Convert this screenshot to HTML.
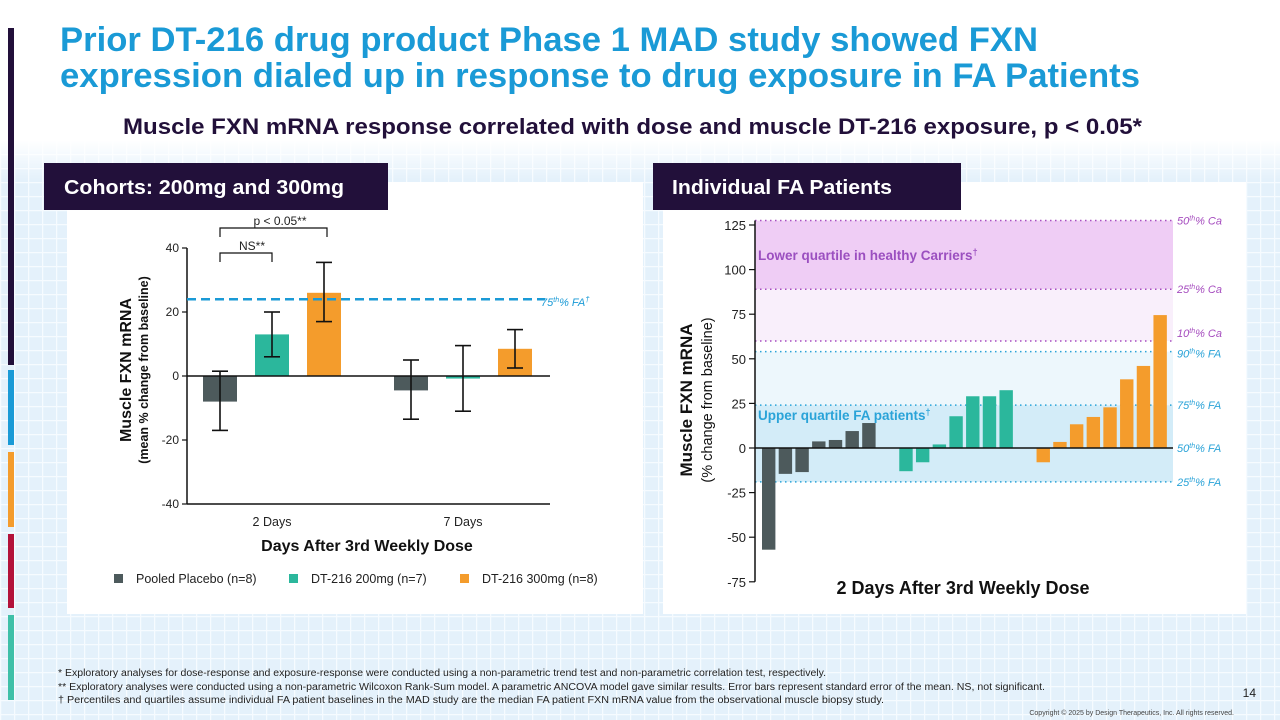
<!DOCTYPE html>
<html><head><meta charset="utf-8"><style>
html,body{margin:0;padding:0;width:1280px;height:720px;overflow:hidden;background:#fff}
svg{display:block;font-family:"Liberation Sans",sans-serif}
</style></head><body>
<svg id="s" width="1280" height="720" viewBox="0 0 1280 720">
<defs>
<pattern id="grid" width="14" height="14" patternUnits="userSpaceOnUse">
<rect width="14" height="14" fill="#e4f1fb"/>
<path d="M0 0.5H14M0.5 0V14" stroke="#f6fbff" stroke-width="1.5"/>
</pattern>
<linearGradient id="fade" x1="0" y1="0" x2="0" y2="1">
<stop offset="0" stop-color="#fff" stop-opacity="1"/><stop offset="1" stop-color="#fff" stop-opacity="0"/>
</linearGradient>
</defs>
<rect x="0" y="140" width="1280" height="580" fill="url(#grid)"/>
<rect x="0" y="140" width="1280" height="40" fill="url(#fade)"/>
<rect x="8" y="28" width="6" height="337" fill="#22103a"/>
<rect x="8" y="370" width="6" height="75" fill="#1a9ad6"/>
<rect x="8" y="452" width="6" height="75" fill="#f49c2c"/>
<rect x="8" y="534" width="6" height="74" fill="#b3123a"/>
<rect x="8" y="615" width="6" height="85" fill="#3fc0a8"/>

<text x="60" y="51" font-size="34" font-weight="bold" fill="#1a9ad6" textLength="978" lengthAdjust="spacingAndGlyphs">Prior DT-216 drug product Phase 1 MAD study showed FXN</text>
<text x="60" y="87" font-size="34" font-weight="bold" fill="#1a9ad6" textLength="1080" lengthAdjust="spacingAndGlyphs">expression dialed up in response to drug exposure in FA Patients</text>
<text x="123" y="134" font-size="22" font-weight="bold" fill="#22103a" textLength="1019" lengthAdjust="spacingAndGlyphs">Muscle FXN mRNA response correlated with dose and muscle DT-216 exposure, p &lt; 0.05*</text>

<rect x="67" y="182" width="576" height="432" fill="#fff"/>
<rect x="663" y="182" width="583" height="432" fill="#fff"/>
<rect x="44" y="163" width="344" height="47" fill="#22103a"/>
<text x="64" y="194" font-size="20" font-weight="bold" fill="#fff" textLength="280" lengthAdjust="spacingAndGlyphs">Cohorts: 200mg and 300mg</text>
<rect x="653" y="163" width="308" height="47" fill="#22103a"/>
<text x="672" y="194" font-size="20" font-weight="bold" fill="#fff" textLength="220" lengthAdjust="spacingAndGlyphs">Individual FA Patients</text>

<g id="left"></g>
<g id="right"></g>

<g font-size="10" fill="#222">
<text x="58" y="676" textLength="768" lengthAdjust="spacingAndGlyphs">*  Exploratory analyses for dose-response and exposure-response were conducted using a non-parametric trend test and non-parametric correlation test, respectively.</text>
<text x="58" y="690" textLength="987" lengthAdjust="spacingAndGlyphs">** Exploratory analyses were conducted using a non-parametric Wilcoxon Rank-Sum model. A parametric ANCOVA model gave similar results. Error bars represent standard error of the mean. NS, not significant.</text>
<text x="58" y="703" textLength="826" lengthAdjust="spacingAndGlyphs">† Percentiles and quartiles assume individual FA patient baselines in the MAD study are the median FA patient FXN mRNA value from the observational muscle biopsy study.</text>
</g>
<text x="1256" y="697" font-size="12" fill="#222" text-anchor="end">14</text>
<text x="1234" y="715" font-size="7" fill="#444" text-anchor="end">Copyright © 2025 by Design Therapeutics, Inc. All rights reserved.</text>
</svg>
<script>
// ---- Left chart data ----
const groups = ["2 Days", "7 Days"];
const seriesNames = ["Pooled Placebo (n=8)", "DT-216 200mg (n=7)", "DT-216 300mg (n=8)"];
const meanDay2 = [-8, 13, 26];
const meanDay7 = [-4.5, -0.8, 8.5];
const errLowDay2 = [-17, 6, 17];
const errHighDay2 = [1.5, 20, 35.5];
const errLowDay7 = [-13.5, -11, 2.5];
const errHighDay7 = [5, 9.5, 14.5];
const leftTicks = [40, 20, 0, -20, -40];
const faLine = 24;
// ---- Right chart data ----
const placeboPts = [-57, -14.5, -13.5, 3.7, 4.5, 9.5, 14];
const mg200Pts = [-13, -8, 2, 17.8, 29, 29, 32.4];
const mg300Pts = [-8, 3.4, 13.3, 17.4, 22.8, 38.5, 46, 74.5];
const rightTicks = [125, 100, 75, 50, 25, 0, -25, -50, -75];
const refLabels = ["50th% Ca", "25th% Ca", "10th% Ca", "90th% FA", "75th% FA", "50th% FA", "25th% FA"];
const refValues = [127.5, 89, 60, 54, 24, 0, -19];

const colors = ["#4d5a5c", "#2bb79c", "#f49c2c"];
const NS = "http://www.w3.org/2000/svg";
function mk(parent, tag, attrs, text) {
  const e = document.createElementNS(NS, tag);
  for (const k in attrs) e.setAttribute(k, attrs[k]);
  if (text !== undefined) e.textContent = text;
  parent.appendChild(e); return e;
}

// ---------- LEFT ----------
(function(){
  const g = document.getElementById('left');
  const y = v => 376 - v * 3.2;
  const axX = 187;
  mk(g,'line',{x1:axX,y1:y(40),x2:axX,y2:y(-40),stroke:'#111','stroke-width':1.5});
  mk(g,'line',{x1:axX,y1:y(-40),x2:550,y2:y(-40),stroke:'#111','stroke-width':1.5});
  leftTicks.forEach(t=>{
    mk(g,'line',{x1:axX-5,y1:y(t),x2:axX,y2:y(t),stroke:'#111','stroke-width':1.2});
    const tl = mk(g,'text',{x:axX-8,y:y(t)+4,'font-size':12,'text-anchor':'end',fill:'#222'},String(t));
    
    
  });
  const groupCenter = [272, 463];
  const step = 52, bw = 34;
  [meanDay2, meanDay7].forEach((means, gi)=>{
    const lo = gi===0?errLowDay2:errLowDay7, hi = gi===0?errHighDay2:errHighDay7;
    means.forEach((v,i)=>{
      const cx = groupCenter[gi] + (i-1)*step;
      const r = mk(g,'rect',{x:cx-bw/2,y:Math.min(y(v),y(0)),width:bw,height:Math.max(1.5,Math.abs(y(v)-y(0))),fill:colors[i]});
      
      
    });
    means.forEach((v,i)=>{
      const cx = groupCenter[gi] + (i-1)*step;
      mk(g,'line',{x1:cx,y1:y(lo[i]),x2:cx,y2:y(hi[i]),stroke:'#111','stroke-width':1.6});
      mk(g,'line',{x1:cx-8,y1:y(lo[i]),x2:cx+8,y2:y(lo[i]),stroke:'#111','stroke-width':1.6});
      mk(g,'line',{x1:cx-8,y1:y(hi[i]),x2:cx+8,y2:y(hi[i]),stroke:'#111','stroke-width':1.6});
    });
    const gl = mk(g,'text',{x:groupCenter[gi],y:526,'font-size':12.5,'text-anchor':'middle',fill:'#222'},groups[gi]);
    
    
  });
  mk(g,'line',{x1:axX,y1:y(0),x2:550,y2:y(0),stroke:'#111','stroke-width':1.5});
  mk(g,'line',{x1:axX,y1:y(faLine),x2:545,y2:y(faLine),stroke:'#1a9ad6','stroke-width':2.5,'stroke-dasharray':'9 5'});
  const fl = mk(g,'text',{x:541,y:y(faLine)+7,'font-size':11,'font-style':'italic',fill:'#1a9ad6'});
  fl.innerHTML='75<tspan font-size="7" dy="-4">th</tspan><tspan dy="4">% FA</tspan><tspan font-size="8" dy="-4">†</tspan>';
  mk(g,'path',{d:'M220 262V253H272V262',fill:'none',stroke:'#111','stroke-width':1.2});
  mk(g,'path',{d:'M220 237V228H327V237',fill:'none',stroke:'#111','stroke-width':1.2});
  mk(g,'text',{x:252,y:250,'font-size':12,'text-anchor':'middle',fill:'#222'},'NS**');
  mk(g,'text',{x:280,y:225,'font-size':12,'text-anchor':'middle',fill:'#222'},'p < 0.05**');
  const yt = mk(g,'text',{transform:'translate(131,370) rotate(-90)','font-size':16,'font-weight':'bold','text-anchor':'middle',fill:'#111'},'Muscle FXN mRNA');
  
  
  mk(g,'text',{transform:'translate(148,370) rotate(-90)','font-size':12.5,'font-weight':'bold','text-anchor':'middle',fill:'#111'},'(mean % change from baseline)');
  const xt = mk(g,'text',{x:367,y:551,'font-size':16,'font-weight':'bold','text-anchor':'middle',fill:'#111'},'Days After 3rd Weekly Dose');
  
  
  const lx = [114, 289, 460];
  seriesNames.forEach((n,i)=>{
    const sw = mk(g,'rect',{x:lx[i],y:574,width:9,height:9,fill:colors[i]});
    
    
    const lt = mk(g,'text',{x:lx[i]+22,y:583,'font-size':12.5,fill:'#222'},n);
    
    
  });
})();

// ---------- RIGHT ----------
(function(){
  const g = document.getElementById('right');
  const y = v => 448 - v * 1.784;
  const axX = 755, xr = 1173;
  mk(g,'rect',{x:axX,y:y(127.5),width:xr-axX,height:y(89)-y(127.5),fill:'#efcdf5'});
  mk(g,'rect',{x:axX,y:y(89),width:xr-axX,height:y(60)-y(89),fill:'#f9effb'});
  mk(g,'rect',{x:axX,y:y(54),width:xr-axX,height:y(24)-y(54),fill:'#edf7fc'});
  mk(g,'rect',{x:axX,y:y(24),width:xr-axX,height:y(-19)-y(24),fill:'#d3ecf8'});
  refValues.forEach((v,i)=>{
    const ca = refLabels[i].indexOf('Ca')>=0;
    const c = ca ? '#a64dbf' : '#2aa3d8';
    if (v!==0) mk(g,'line',{x1:axX,y1:y(v),x2:xr,y2:y(v),stroke:c,'stroke-width':1.5,'stroke-dasharray':'1.5 3.5'});
    const parts = refLabels[i].split('th');
    const t = mk(g,'text',{x:1177,y:y(v)+(i===2?-4:(i===3?6:4)),'font-size':11,'font-style':'italic',fill:c});
    t.innerHTML = parts[0]+'<tspan font-size="7" dy="-4">th</tspan><tspan dy="4">'+parts[1]+'</tspan>';
    
    
  });
  mk(g,'text',{x:758,y:260,'font-size':13.5,'font-weight':'bold',fill:'#9b4fc0'}).innerHTML='Lower quartile in healthy Carriers<tspan font-size="9" dy="-5">†</tspan>';
  mk(g,'text',{x:758,y:420,'font-size':13.5,'font-weight':'bold',fill:'#2aa3d8'}).innerHTML='Upper quartile FA patients<tspan font-size="9" dy="-5">†</tspan>';
  const step = 16.7, bw = 13.4, x0 = 762, gGap = 1.22*step;
  let idx = 0;
  [placeboPts, mg200Pts, mg300Pts].forEach((arr,gi)=>{
    arr.forEach((v,i)=>{
      const x = x0 + (idx + i)*step + gi*gGap;
      const r = mk(g,'rect',{x:x,y:Math.min(y(v),y(0)),width:bw,height:Math.abs(y(v)-y(0)),fill:colors[gi]});
      
      
    });
    idx += arr.length;
  });
  mk(g,'line',{x1:axX,y1:y(0),x2:xr,y2:y(0),stroke:'#111','stroke-width':1.5});
  mk(g,'line',{x1:axX,y1:y(127.5),x2:axX,y2:y(-75),stroke:'#111','stroke-width':1.5});
  rightTicks.forEach(t=>{
    mk(g,'line',{x1:axX-6,y1:y(t),x2:axX,y2:y(t),stroke:'#111','stroke-width':1.2});
    const tl = mk(g,'text',{x:axX-9,y:y(t)+5,'font-size':13,'text-anchor':'end',fill:'#222'},String(t));
    
    
  });
  const yt = mk(g,'text',{transform:'translate(692,400) rotate(-90)','font-size':17,'font-weight':'bold','text-anchor':'middle',fill:'#111'},'Muscle FXN mRNA');
  
  
  mk(g,'text',{transform:'translate(712,400) rotate(-90)','font-size':14.5,'text-anchor':'middle',fill:'#111'},'(% change from baseline)');
  const xt = mk(g,'text',{x:963,y:594,'font-size':18,'font-weight':'bold','text-anchor':'middle',fill:'#111'},'2 Days After 3rd Weekly Dose');
  
  
})();
</script>
</body></html>
